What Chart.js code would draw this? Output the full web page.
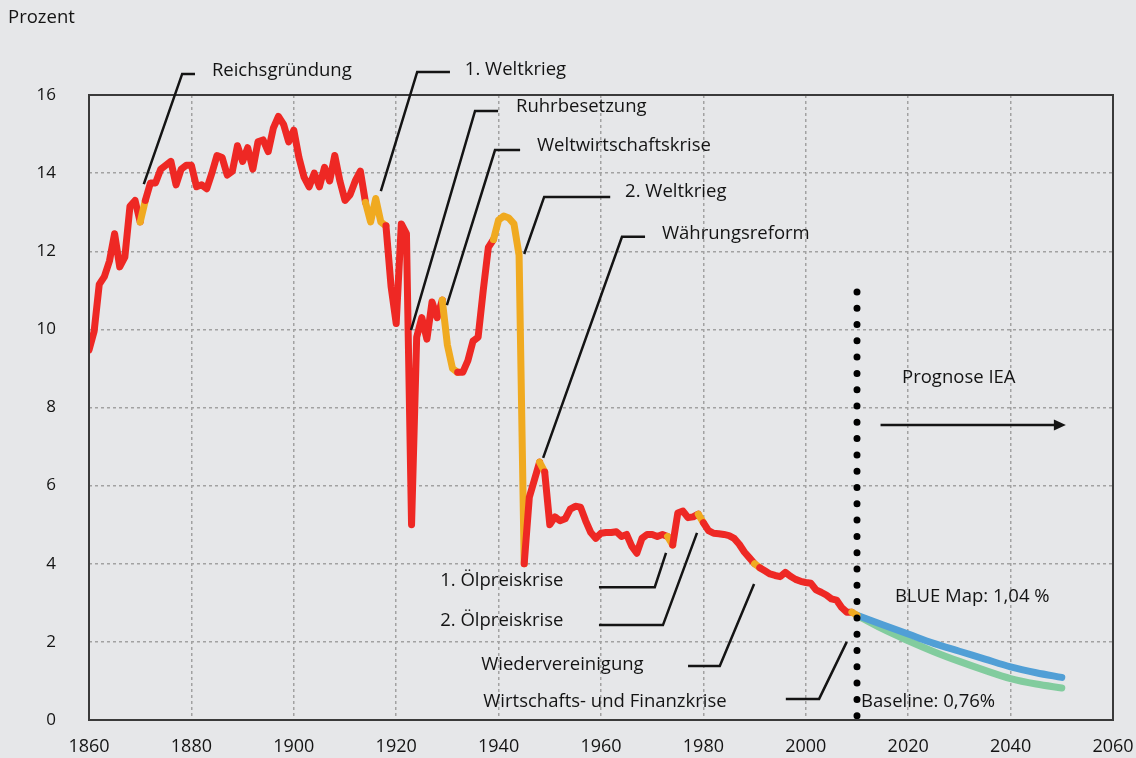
<!DOCTYPE html>
<html lang="de">
<head>
<meta charset="utf-8">
<title>Energieintensität</title>
<script src="https://cdn.jsdelivr.net/npm/chart.js@4.4.1/dist/chart.umd.min.js"></script>
<style>
  html, body { margin: 0; padding: 0; background: #e6e7e9; }
  canvas { display: block; }
</style>
</head>
<body>
<canvas id="chart" width="1136" height="758"></canvas>
<script>
// --- data ---
const firstYear = 1860;
const intensity = [
  9.47, 9.95, 11.15, 11.35, 11.75, 12.45, 11.6, 11.85, 13.15, 13.3,     // 1860-1869
  12.75, 13.3, 13.75, 13.75, 14.1, 14.2, 14.3, 13.7, 14.1, 14.2,        // 1870-1879
  14.2, 13.65, 13.7, 13.6, 14.0, 14.45, 14.4, 13.95, 14.05, 14.7,       // 1880-1889
  14.3, 14.65, 14.1, 14.8, 14.85, 14.55, 15.15, 15.45, 15.25, 14.8,     // 1890-1899
  15.1, 14.4, 13.9, 13.65, 14.0, 13.65, 14.15, 13.8, 14.45, 13.8,       // 1900-1909
  13.3, 13.45, 13.8, 14.05, 13.25, 12.75, 13.35, 12.75, 12.65, 11.1,    // 1910-1919
  10.15, 12.7, 12.45, 5.0, 9.8, 10.3, 9.75, 10.7, 10.3, 10.75,          // 1920-1929
  9.6, 9.0, 8.9, 8.9, 9.2, 9.7, 9.8, 11.0, 12.1, 12.3,                  // 1930-1939
  12.8, 12.9, 12.85, 12.7, 11.9, 4.0, 5.7, 6.15, 6.6, 6.35,             // 1940-1949
  5.0, 5.2, 5.1, 5.15, 5.4, 5.47, 5.45, 5.1, 4.8, 4.65,                 // 1950-1959
  4.78, 4.8, 4.8, 4.82, 4.7, 4.75, 4.45, 4.27, 4.65, 4.75,              // 1960-1969
  4.75, 4.7, 4.75, 4.7, 4.48, 5.3, 5.35, 5.18, 5.2, 5.27,               // 1970-1979
  5.05, 4.85, 4.78, 4.77, 4.75, 4.72, 4.65, 4.5, 4.3, 4.15,             // 1980-1989
  4.0, 3.9, 3.82, 3.74, 3.7, 3.67, 3.78, 3.68, 3.6, 3.55,               // 1990-1999
  3.52, 3.5, 3.33, 3.27, 3.2, 3.1, 3.07, 2.88, 2.76, 2.76,              // 2000-2009
  2.68                                                                  // 2010
];

const projYears = [2010, 2015, 2020, 2025, 2030, 2035, 2040, 2045, 2050];
const blueMap = [2.68, 2.44, 2.2, 1.96, 1.76, 1.56, 1.36, 1.21, 1.09];
const baseline = [2.68, 2.33, 2.03, 1.75, 1.5, 1.27, 1.06, 0.92, 0.82];

// orange crisis spans [from, to]
const eventSpans = [
  [1870, 1871], [1914, 1918], [1929, 1932], [1939, 1945], [1948, 1949],
  [1973, 1974], [1979, 1980], [1990, 1991], [2009, 2010]
];

const forecastYear = 2010;
const forecastRange = [0.1, 10.96];

// annotations: text, text anchor [year, value], leader polyline [[year, value], ...]
const annotations = [
  { text: 'Reichsgründung', at: [1884.0, 16.61], path: [[1880.7, 16.54], [1878.2, 16.54], [1870.7, 13.72]] },
  { text: '1. Weltkrieg', at: [1933.4, 16.64], path: [[1930.5, 16.59], [1924.1, 16.59], [1917.0, 13.54]] },
  { text: 'Ruhrbesetzung', at: [1943.4, 15.69], path: [[1939.9, 15.59], [1935.4, 15.59], [1922.9, 9.98]] },
  { text: 'Weltwirtschaftskrise', at: [1947.5, 14.69], path: [[1944.2, 14.59], [1939.3, 14.59], [1929.9, 10.62]] },
  { text: '2. Weltkrieg', at: [1964.7, 13.52], path: [[1961.8, 13.39], [1948.9, 13.39], [1945.0, 11.93]] },
  { text: 'Währungsreform', at: [1971.9, 12.44], path: [[1968.6, 12.37], [1964.1, 12.37], [1948.7, 6.71]] },
  { text: '1. Ölpreiskrise', at: [1928.6, 3.56], path: [[1959.6, 3.40], [1970.5, 3.40], [1972.7, 4.28]] },
  { text: '2. Ölpreiskrise', at: [1928.6, 2.53], path: [[1959.6, 2.43], [1972.1, 2.43], [1978.75, 4.79]] },
  { text: 'Wiedervereinigung', at: [1936.6, 1.41], path: [[1977.0, 1.38], [1983.2, 1.38], [1989.9, 3.48]] },
  { text: 'Wirtschafts- und Finanzkrise', at: [1937.0, 0.46], path: [[1996.1, 0.54], [2002.6, 0.54], [2008.0, 2.0]] },
  { text: 'Prognose IEA', at: [2018.8, 8.76], path: [] },
  { text: 'BLUE Map: 1,04 %', at: [2017.4, 3.15], path: [] },
  { text: 'Baseline: 0,76%', at: [2010.8, 0.46], path: [] }
];
const arrowFrom = [2014.6, 7.55];
const arrowTo = [2050.8, 7.55];

// --- colours ---
const RED = '#ee2824';
const ORANGE = '#f0aa20';
const BLUE = '#519fd6';
const GREEN = '#82cc9e';
const INK = '#141414';
const FONT = "'Open Sans', sans-serif";

const historyPoints = intensity.map((v, i) => ({ x: firstYear + i, y: v }));
const bluePoints = projYears.map((yr, i) => ({ x: yr, y: blueMap[i] }));
const basePoints = projYears.map((yr, i) => ({ x: yr, y: baseline[i] }));

function inEvent(ctx) {
  const a = ctx.p0.parsed.x, b = ctx.p1.parsed.x;
  return eventSpans.some(s => a >= s[0] && b <= s[1]);
}

// keep the plot area fixed: no extra room for overflowing tick labels
function fixBox(size, dim) {
  return s => {
    s[dim] = size;
    s.paddingLeft = s.paddingRight = s.paddingTop = s.paddingBottom = 0;
  };
}

const overlay = {
  id: 'overlay',
  beforeDraw(chart) {
    const { ctx, width, height } = chart;
    ctx.save();
    ctx.fillStyle = '#e6e7e9';
    ctx.fillRect(0, 0, width, height);
    ctx.restore();
  },
  afterDraw(chart) {
    const { ctx, chartArea: a } = chart;
    const xs = chart.scales.x, ys = chart.scales.y;
    const px = p => [xs.getPixelForValue(p[0]), ys.getPixelForValue(p[1])];
    ctx.save();

    // frame
    ctx.strokeStyle = '#3a3a3a';
    ctx.lineWidth = 2;
    ctx.strokeRect(a.left, a.top, a.right - a.left, a.bottom - a.top);

    // leader lines
    ctx.strokeStyle = INK;
    ctx.lineWidth = 2.5;
    ctx.lineJoin = 'miter';
    annotations.forEach(an => {
      if (!an.path.length) return;
      ctx.beginPath();
      an.path.forEach((p, i) => {
        const [x, y] = px(p);
        if (i === 0) ctx.moveTo(x, y); else ctx.lineTo(x, y);
      });
      ctx.stroke();
    });

    // forecast arrow
    const [ax0, ay] = px(arrowFrom);
    const [ax1] = px(arrowTo);
    ctx.beginPath();
    ctx.moveTo(ax0, ay);
    ctx.lineTo(ax1 - 10, ay);
    ctx.stroke();
    ctx.fillStyle = INK;
    ctx.beginPath();
    ctx.moveTo(ax1, ay);
    ctx.lineTo(ax1 - 12, ay - 5.5);
    ctx.lineTo(ax1 - 12, ay + 5.5);
    ctx.closePath();
    ctx.fill();

    // labels
    ctx.font = `18.5px ${FONT}`;
    ctx.textAlign = 'left';
    ctx.textBaseline = 'middle';
    annotations.forEach(an => {
      const [x, y] = px(an.at);
      ctx.fillText(an.text, x, y);
    });
    ctx.fillText('Prozent', 8, 18);
    ctx.restore();
  }
};

new Chart(document.getElementById('chart'), {
  type: 'line',
  data: {
    datasets: [
      {
        label: 'Prognosegrenze',
        data: [{ x: forecastYear, y: forecastRange[1] }, { x: forecastYear, y: forecastRange[0] }],
        borderColor: '#000',
        borderWidth: 7,
        borderDash: [0, 16.3],
        borderCapStyle: 'round',
        pointRadius: 0
      },
      {
        label: 'Energieintensität',
        data: historyPoints,
        borderColor: RED,
        borderWidth: 7,
        borderCapStyle: 'round',
        borderJoinStyle: 'round',
        pointRadius: 0,
        tension: 0,
        segment: { borderColor: ctx => inEvent(ctx) ? ORANGE : RED }
      },
      {
        label: 'BLUE Map',
        data: bluePoints,
        borderColor: BLUE,
        borderWidth: 7,
        borderCapStyle: 'round',
        pointRadius: 0,
        cubicInterpolationMode: 'monotone'
      },
      {
        label: 'Baseline',
        data: basePoints,
        borderColor: GREEN,
        borderWidth: 7,
        borderCapStyle: 'round',
        pointRadius: 0,
        cubicInterpolationMode: 'monotone'
      }
    ]
  },
  options: {
    responsive: false,
    animation: false,
    events: [],
    layout: { padding: { top: 95, right: 23, left: 0, bottom: 0 } },
    plugins: { legend: { display: false }, tooltip: { enabled: false } },
    scales: {
      x: {
        type: 'linear',
        min: 1860,
        max: 2060,
        ticks: { stepSize: 20, color: INK, font: { family: FONT, size: 18 }, padding: 16, callback: v => String(v) },
        grid: { color: '#a2a2a2', lineWidth: 1.5, drawTicks: false },
        border: { display: false, dash: [3, 3] },
        afterFit: fixBox(38, 'height')
      },
      y: {
        min: 0,
        max: 16,
        ticks: { stepSize: 2, color: INK, font: { family: FONT, size: 17 }, padding: 33 },
        grid: { color: '#a2a2a2', lineWidth: 1.5, drawTicks: false },
        border: { display: false, dash: [3, 3] },
        afterFit: fixBox(89, 'width')
      }
    }
  },
  plugins: [overlay]
});
</script>
</body>
</html>
